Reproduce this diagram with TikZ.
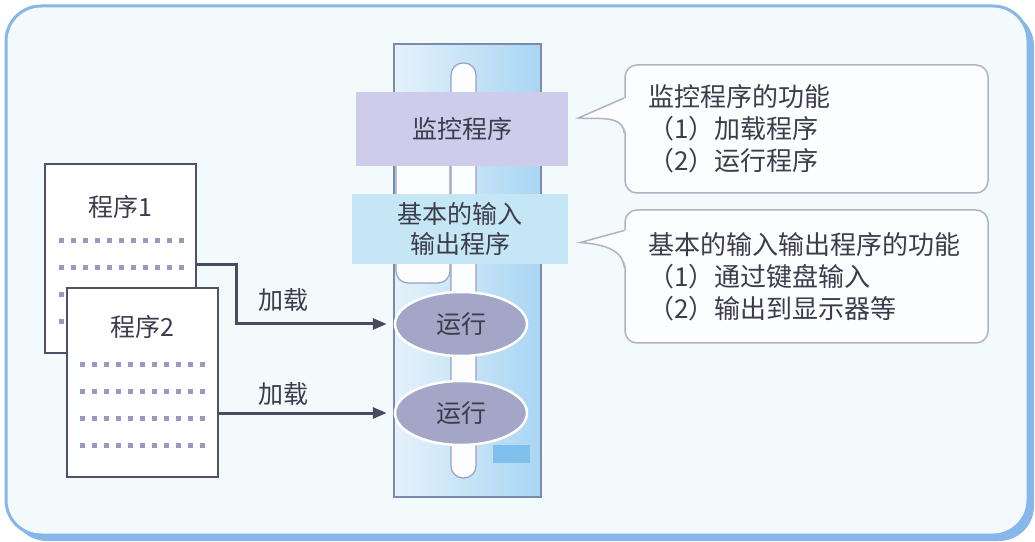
\documentclass[tikz,border=0pt]{standalone}
\usepackage{fontspec}
\setmainfont{Noto Sans CJK SC}
\usetikzlibrary{positioning, arrows.meta, calc, shapes.geometric}

\definecolor{bgfill}{HTML}{F2FAFC}
\definecolor{frameblue}{HTML}{86B6EA}
\definecolor{inkgray}{HTML}{3C3C4C}
\definecolor{memleft}{HTML}{E4F2FB}
\definecolor{memright}{HTML}{A9D5F3}
\definecolor{memedge}{HTML}{7C8AAE}
\definecolor{monfill}{HTML}{CDCDEB}
\definecolor{iofill}{HTML}{C4E6F5}
\definecolor{runfill}{HTML}{A3A6C6}
\definecolor{docedge}{HTML}{50506A}
\definecolor{dotc}{HTML}{9A9AC0}
\definecolor{arrowc}{HTML}{4A4A60}
\definecolor{calledge}{HTML}{B0B2C4}
\definecolor{callfill}{HTML}{FBFDFE}
\definecolor{markblue}{HTML}{80C0EC}

\begin{document}
\begin{tikzpicture}[
  x=1pt, y=1pt,
  txt/.style={text=inkgray, font=\fontsize{25}{30}\selectfont},
  memcol/.style={draw=memedge, line width=1.5pt, left color=memleft, right color=memright,
    minimum width=147pt, minimum height=453pt, inner sep=0pt},
  tube/.style={draw=memedge!80, line width=1.2pt, fill=white!85!memleft, rounded corners=12pt},
  progbox/.style={txt, align=center, inner sep=0pt},
  runner/.style={ellipse, txt, fill=runfill, draw=white, line width=2.5pt,
    minimum width=132pt, minimum height=64pt, inner sep=0pt},
  doc/.style={draw=docedge, fill=white, line width=1.5pt, minimum width=151pt,
    minimum height=189pt, inner sep=0pt},
  load/.style={-{Triangle[length=14pt, width=11pt]}, line width=3pt, draw=arrowc,
    shorten >=7pt},
  note/.style={draw=calledge, fill=callfill, line width=1.5pt, rounded corners=12pt,
    align=left, text width=317pt, inner xsep=23pt, text=inkgray,
    font=\fontsize{26}{32}\selectfont}
]
\useasboundingbox (0,0) rectangle (1035,541);

% --- outer frame with its shadow ---
\fill[frameblue, rounded corners=35pt] (12,0) rectangle (1034,530);
\filldraw[fill=bgfill, draw=frameblue, line width=3pt, rounded corners=35pt] (6,6) rectangle (1028,535);

% --- memory column ---
\node[memcol] (mem) at (467.5,270.5) {};
\draw[tube] (451,63) rectangle (476,478);
\draw[tube] (396,258) rectangle (450,420);
\fill[markblue] (493,78) rectangle (530,96);

\node[progbox, fill=monfill, minimum width=212pt, minimum height=74pt] (monitor) at (462,412) {监控程序};
\node[progbox, fill=iofill, minimum width=216pt, minimum height=70pt] (basicio) at (460,312)
  {基本的输入\\输出程序};

\node[runner] (run1) at (461,217) {运行};
\node[runner] (run2) at (461,128) {运行};

% --- the two programs ---
\node[doc] (prog1) at (120.5,282.5) {};
\node[txt] (title1) at ($(prog1.north)+(0,-44)$) {程序1};
\foreach \r in {77,104,131,158}
  \foreach \i in {0,...,10}
    \fill[dotc] ($(prog1.north west)+(17+12*\i,-\r)$) +(-2.5,-2.5) rectangle +(2.5,2.5);

\node[doc] (prog2) at (142.5,158.5) {};
\node[txt] (title2) at ($(prog2.north)+(0,-40)$) {程序2};
\foreach \r in {77,104,131,158}
  \foreach \i in {0,...,10}
    \fill[dotc] ($(prog2.north west)+(16+12*\i,-\r)$) +(-2.5,-2.5) rectangle +(2.5,2.5);

% load arrows into the running area
\draw[load] ([yshift=-6.5pt]prog1.east) -- ++(40,0) |- (run1.west);
\node[txt] (load1) at (283,241) {加载};
\draw[load] (prog2.east |- run2.west) -- (run2.west);
\node[txt] (load2) at (283,147) {加载};

% --- callouts on the right ---
\node[note, minimum height=128pt] (monnote) at (806.5,412)
  {监控程序的功能\\（1）加载程序\\（2）运行程序};
\coordinate (montip) at ($(monnote.west)+(-46,11)$);
\fill[callfill] ($(monnote.west)+(1.5,31)$) -- (montip) to[out=-5, in=95] ($(monnote.west)+(1.5,-4)$) -- cycle;
\draw[calledge, line width=1.5pt] ($(monnote.west)+(0,31)$) -- (montip)
  to[out=-5, in=95] ($(monnote.west)+(0,-4)$);

\node[note, minimum height=133pt] (ionote) at (806.5,264.5)
  {基本的输入输出程序的功能\\（1）通过键盘输入\\（2）输出到显示器等};
\coordinate (iotip) at ($(ionote.west)+(-44,34)$);
\fill[callfill] ($(ionote.west)+(1.5,46)$) -- (iotip) to[out=-5, in=95] ($(ionote.west)+(1.5,9)$) -- cycle;
\draw[calledge, line width=1.5pt] ($(ionote.west)+(0,46)$) -- (iotip)
  to[out=-5, in=95] ($(ionote.west)+(0,9)$);

\end{tikzpicture}
\end{document}
